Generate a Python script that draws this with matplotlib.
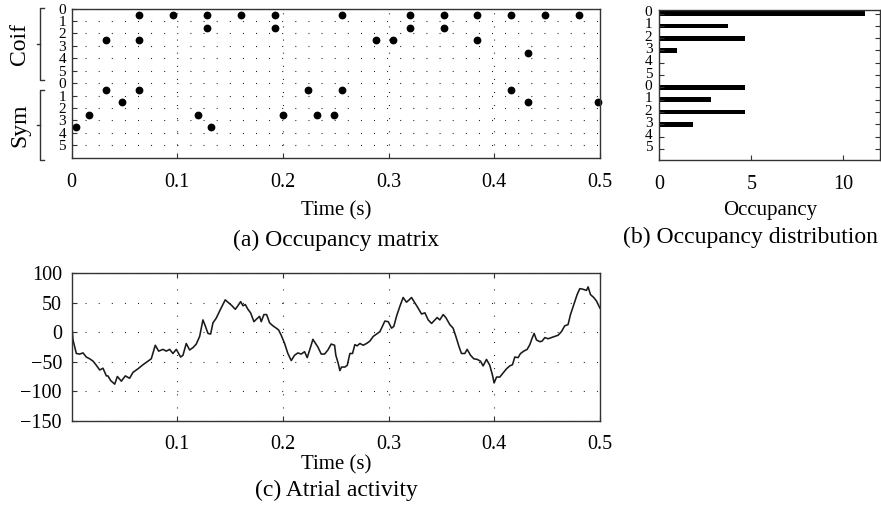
import matplotlib
matplotlib.use("Agg")
import matplotlib.pyplot as plt
from matplotlib.transforms import blended_transform_factory, ScaledTranslation

plt.rcParams['font.family'] = ['Liberation Serif', 'DejaVu Serif']

# Occupancy matrix: (time, row) of each selected atom
coif_t = [0.064, 0.096, 0.128, 0.160, 0.192, 0.256, 0.320, 0.352, 0.384, 0.416, 0.448, 0.480,
          0.128, 0.192, 0.320, 0.352,
          0.032, 0.064, 0.288, 0.304, 0.384,
          0.432]
coif_row = [0] * 12 + [1] * 4 + [2] * 5 + [3]
sym_t = [0.032, 0.064, 0.224, 0.256, 0.416,
         0.048, 0.432, 0.498,
         0.016, 0.120, 0.200, 0.232, 0.248,
         0.004, 0.132]
sym_row = [0] * 5 + [1] * 3 + [2] * 5 + [3] * 2
row_labels = ['0', '1', '2', '3', '4', '5']

# Occupancy distribution (Coif 0-5 then Sym 0-5)
occupancy = [11.18, 3.72, 4.66, 0.94, 0, 0, 4.66, 2.79, 4.66, 1.85, 0, 0]

# Atrial activity trace
atrial_t = [0.0, 0.0012, 0.0044, 0.0075, 0.0107, 0.0138, 0.0170, 0.0202, 0.0233, 0.0265,
            0.0296, 0.0328, 0.0343, 0.0369, 0.0407, 0.0432, 0.0470, 0.0507, 0.0548, 0.0580,
            0.0627, 0.0675, 0.0722, 0.0753, 0.0791, 0.0823, 0.0864, 0.0895, 0.0927, 0.0958,
            0.0990, 0.1031, 0.1053, 0.1084, 0.1116, 0.1148, 0.1179, 0.1211, 0.1242, 0.1264,
            0.1290, 0.1315, 0.1337, 0.1368, 0.1400, 0.1431, 0.1453, 0.1485, 0.1517, 0.1548,
            0.1573, 0.1599, 0.1621, 0.1643, 0.1668, 0.1693, 0.1725, 0.1747, 0.1778, 0.1794,
            0.1819, 0.1845, 0.1873, 0.1904, 0.1936, 0.1958, 0.1983, 0.2015, 0.2046, 0.2078,
            0.2109, 0.2141, 0.2172, 0.2204, 0.2229, 0.2261, 0.2283, 0.2305, 0.2330, 0.2362,
            0.2393, 0.2425, 0.2456, 0.2488,
            0.2500, 0.2523, 0.2538, 0.2554, 0.2586, 0.2608, 0.2633, 0.2658, 0.2680, 0.2702,
            0.2728, 0.2759, 0.2791, 0.2822, 0.2854, 0.2885, 0.2917, 0.2933, 0.2964, 0.2996,
            0.3027, 0.3049, 0.3074, 0.3106, 0.3137, 0.3169, 0.3194, 0.3216, 0.3248, 0.3279,
            0.3311, 0.3343, 0.3374, 0.3406, 0.3437, 0.3459, 0.3484, 0.3516, 0.3541, 0.3579,
            0.3610, 0.3636, 0.3667, 0.3689, 0.3721, 0.3743, 0.3775, 0.3806, 0.3838, 0.3869,
            0.3894, 0.3926, 0.3957, 0.3983, 0.3998, 0.4021, 0.4052, 0.4084, 0.4115, 0.4147,
            0.4172, 0.4194, 0.4225, 0.4248, 0.4279, 0.4311, 0.4336, 0.4358, 0.4377, 0.4399,
            0.4431, 0.4452, 0.4478, 0.4509, 0.4541, 0.4572, 0.4604, 0.4635, 0.4667, 0.4698,
            0.4721, 0.4752, 0.4784, 0.4809, 0.4840, 0.4872, 0.4888, 0.4910, 0.4941, 0.4967,
            0.5000]
atrial_v = [15, -13, -36, -37, -35, -42, -45, -49, -56, -64,
            -61, -74, -74, -82, -88, -75, -83, -74, -78, -68,
            -62, -55, -49, -45, -22, -32, -29, -32, -29, -36,
            -29, -42, -39, -19, -30, -26, -20, -7, 21, 11,
            -2, -3, 16, 24, 36, 47, 55, 50, 45, 39,
            45, 52, 45, 47, 39, 33, 18, 22, 27, 18,
            30, 30, 16, 11, 7, 4, -5, -19, -36, -48,
            -39, -35, -37, -33, -43, -25, -12, -18, -25, -37,
            -37, -30, -20, -22,
            -39, -53, -65, -59, -59, -56, -36, -36, -21, -23,
            -19, -22, -19, -15, -7, -3, 1, 7, 19, 18,
            7, 10, 27, 44, 59, 51, 55, 59, 50, 41,
            31, 33, 21, 15, 21, 25, 21, 30, 25, 13,
            7, -7, -25, -36, -36, -29, -39, -45, -46, -49,
            -57, -46, -56, -73, -86, -76, -76, -69, -62, -57,
            -55, -42, -43, -36, -32, -29, -21, -10, -2, -13,
            -16, -15, -9, -11, -9, -7, -5, 1, 11, 13,
            30, 47, 64, 74, 73, 71, 77, 64, 59, 53,
            41]

FS = 14.5      # tick labels
FL = 15        # axis labels
FC = 17        # captions
DOT = (0, (0.8, 11))
SPINE = '#333333'

fig = plt.figure(figsize=(8.81, 5.16), dpi=100)

def style(ax):
    for s in ax.spines.values():
        s.set_linewidth(1.0)
        s.set_color(SPINE)

# (a) occupancy matrix
ax_m = fig.add_axes([0.0814, 0.6944, 0.5996, 0.2891])
ax_m.plot(coif_t, [r + 0.55 for r in coif_row], 'o', color='black', ms=4.6)
ax_m.plot(sym_t, [r + 6.55 for r in sym_row], 'o', color='black', ms=4.6, clip_on=False)
ax_m.set_xlim(0, 0.5)
ax_m.set_ylim(12, 0)
ax_m.set_yticks(range(12))
ax_m.set_yticklabels(row_labels * 2)
ax_m.set_xticks([0, 0.1, 0.2, 0.3, 0.4, 0.5])
ax_m.set_xticklabels(['0', '0.1', '0.2', '0.3', '0.4', '0.5'])
ax_m.grid(True, color='black', lw=0.8, ls=DOT)
ax_m.tick_params(direction='in', length=3.5, width=0.8, color=SPINE)
ax_m.tick_params(axis='x', labelsize=FS, pad=11)
ax_m.tick_params(axis='y', labelsize=11, pad=4)
style(ax_m)

# group brackets
tr = blended_transform_factory(fig.transFigure, ax_m.transData)
bx = 40 / 881
cap = 3.5 / 881
for y0, y1, name in [(-0.05, 5.75, 'Coif'), (6.55, 12.2, 'Sym')]:
    ym = (y0 + y1) / 2
    ax_m.plot([bx + cap, bx, bx, bx + cap], [y0, y0, y1, y1], color=SPINE, lw=1.0,
              transform=tr, clip_on=False)
    ax_m.plot([bx, bx - cap], [ym, ym], color=SPINE, lw=1.0, transform=tr, clip_on=False)
    ax_m.text(20 / 881, ym, name, rotation=90, ha='center', va='center', fontsize=17,
              transform=tr)

fig.text(336 / 881, 1 - 211 / 516, 'Time (s)', ha='center', va='center', fontsize=FL)
fig.text(336 / 881, 1 - 240 / 516, '(a) Occupancy matrix', ha='center', va='center', fontsize=FC)

# (b) occupancy distribution
ax_b = fig.add_axes([0.7484, 0.6899, 0.2505, 0.2898])
ax_b.barh(range(12), occupancy, height=0.38, color='black')
ax_b.set_xlim(0, 12)
ax_b.set_ylim(11.9, -0.25)
ax_b.set_yticks(range(12))
ax_b.set_yticklabels(row_labels * 2)
ax_b.set_xticks([0, 5, 10])
ax_b.tick_params(direction='in', length=3.5, width=0.8, color=SPINE, right=True)
ax_b.tick_params(axis='x', labelsize=FS, pad=11)
ax_b.tick_params(axis='y', labelsize=11, pad=5)
shift = ScaledTranslation(0, 2.5 / 100, fig.dpi_scale_trans)
for lbl in ax_b.get_yticklabels():
    lbl.set_transform(lbl.get_transform() + shift)
style(ax_b)

fig.text(770 / 881, 1 - 210 / 516, 'Occupancy', ha='center', va='center', fontsize=FL)
fig.text(750 / 881, 1 - 237 / 516, '(b) Occupancy distribution', ha='center', va='center',
         fontsize=FC)

# (c) atrial activity
ax_c = fig.add_axes([0.0814, 0.1847, 0.5996, 0.2856])
ax_c.plot(atrial_t, atrial_v, color='#1a1a1a', lw=1.15)
ax_c.set_xlim(0, 0.5)
ax_c.set_ylim(-150, 100)
ax_c.set_xticks([0.1, 0.2, 0.3, 0.4, 0.5])
ax_c.set_xticklabels(['0.1', '0.2', '0.3', '0.4', '0.5'])
ax_c.set_yticks([-150, -100, -50, 0, 50, 100])
ax_c.set_yticklabels(['\u2212150', '\u2212100', '\u221250', '0', '50', '100'])
ax_c.grid(True, color='black', lw=0.8, ls=DOT)
ax_c.tick_params(direction='in', length=3.5, width=0.8, color=SPINE, top=True,
                 labelsize=FS)
ax_c.tick_params(axis='x', pad=10)
ax_c.tick_params(axis='y', pad=7)
style(ax_c)

fig.text(336 / 881, 1 - 465 / 516, 'Time (s)', ha='center', va='center', fontsize=FL)
fig.text(336 / 881, 1 - 490 / 516, '(c) Atrial activity', ha='center', va='center', fontsize=FC)

fig.savefig('out.png', dpi=100)
